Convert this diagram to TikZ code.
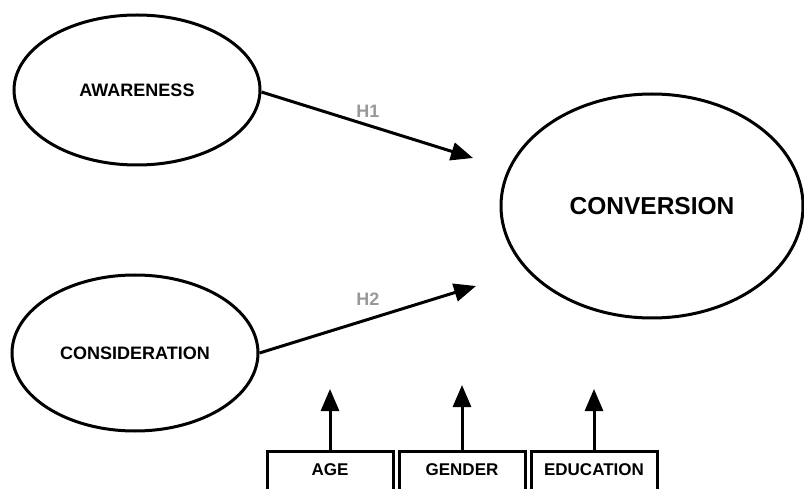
\documentclass[tikz,border=0pt]{standalone}
\usepackage{fontspec}
\setmainfont{Liberation Sans}
\usetikzlibrary{shapes.geometric,arrows.meta}
\begin{document}
\begin{tikzpicture}[x=1pt,y=-1pt,
  oval/.style={draw,line width=3pt,ellipse,inner sep=0pt},
  lbl/.style={font=\bfseries\fontsize{17}{17}\selectfont},
  hyp/.style={font=\bfseries\fontsize{18}{18}\selectfont,text=black!40},
  arr/.style={line width=3pt,-{Triangle[length=22pt,width=18pt]}},
  ctrl/.style={draw,line width=3pt,minimum width=126pt,minimum height=80pt,anchor=north,inner sep=0pt}]
\useasboundingbox (0,0) rectangle (804,489);
\clip (0,0) rectangle (804,489);
\node[oval,minimum width=246pt,minimum height=150pt] (aw) at (137,90) {};
\node[lbl,font=\bfseries\fontsize{18}{18}\selectfont] at (aw.center) {AWARENESS};
\node[oval,minimum width=246pt,minimum height=156pt] (co) at (135,353) {};
\node[lbl,font=\bfseries\fontsize{18}{18}\selectfont] at (co.center) {CONSIDERATION};
\node[oval,minimum width=302pt,minimum height=224pt] (cv) at (652,206) {};
\node[font=\bfseries\fontsize{24.5}{24.5}\selectfont] at (cv.center) {CONVERSION};
\coordinate (t1) at (473,158);
\coordinate (t2) at (476,286);
\draw[arr] (aw.east) ++(0,2) -- (t1);
\draw[arr] (co.east) -- (t2);
\node[hyp] (h1) at (368,111) {H1};
\node[hyp] (h2) at (368,299) {H2};
\node[ctrl] (age) at (330,450) {};
\node[ctrl] (gen) at (462,450) {};
\node[ctrl] (edu) at (594,450) {};
\node[lbl] at (330,470) {AGE};
\node[lbl] at (462,470) {GENDER};
\node[lbl] at (594,470) {EDUCATION};
\coordinate (a1) at (330,389);
\coordinate (a2) at (462,385);
\coordinate (a3) at (594,389);
\draw[arr] (age.north) -- (a1);
\draw[arr] (gen.north) -- (a2);
\draw[arr] (edu.north) -- (a3);
\end{tikzpicture}
\end{document}
